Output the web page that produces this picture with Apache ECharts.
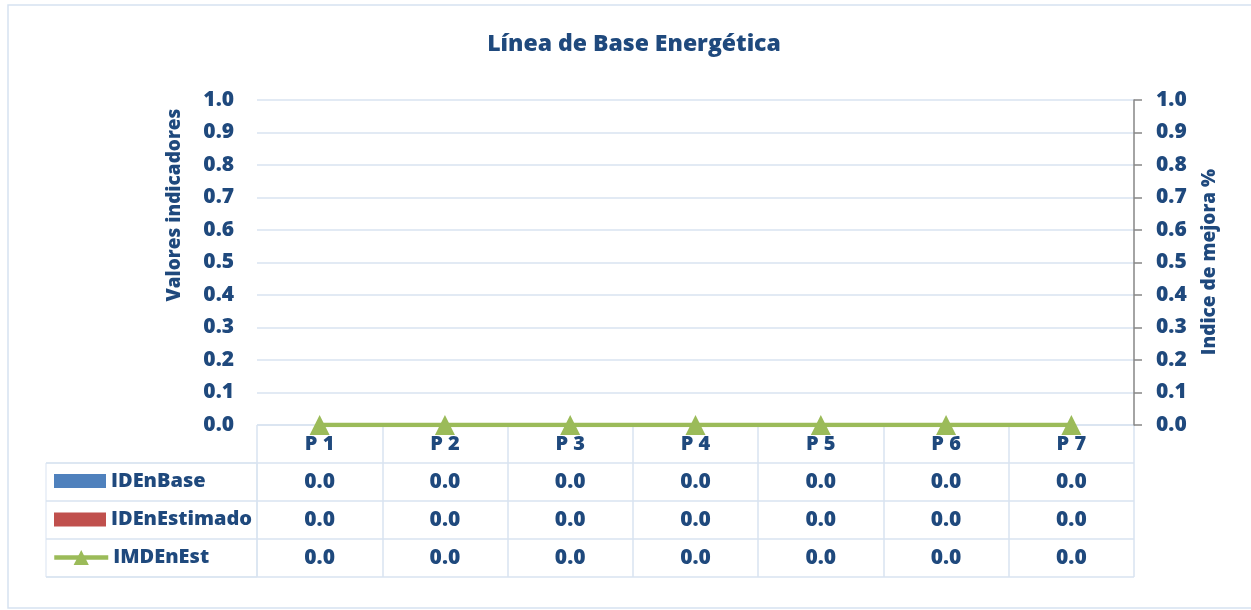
<!DOCTYPE html>
<html>
<head>
<meta charset="utf-8">
<script src="https://cdn.jsdelivr.net/npm/echarts@6/dist/echarts.min.js"></script>
<style>
html,body{margin:0;padding:0;background:#fff;}
#c{width:1251px;height:610px;}
</style>
</head>
<body>
<div id="c"></div>
<script>
// ---- data ----
var categories = ['P 1', 'P 2', 'P 3', 'P 4', 'P 5', 'P 6', 'P 7'];
var seriesNames = ['IDEnBase', 'IDEnEstimado', 'IMDEnEst'];
var idEnBase = [0, 0, 0, 0, 0, 0, 0];
var idEnEstimado = [0, 0, 0, 0, 0, 0, 0];
var imdEnEst = [0, 0, 0, 0, 0, 0, 0];
var leftTicks = [0, 0.1, 0.2, 0.3, 0.4, 0.5, 0.6, 0.7, 0.8, 0.9, 1.0];
var rightTicks = [0, 0.1, 0.2, 0.3, 0.4, 0.5, 0.6, 0.7, 0.8, 0.9, 1.0];

// ---- styles ----
var TXT = '#1f497d';
var GRIDC = '#d9e3f1';
var FONT = '"Open Sans", sans-serif';
var W = 800;

var tableRows = [idEnBase, idEnEstimado, imdEnEst];
var tableData = [];
tableRows.forEach(function (row, r) {
  row.forEach(function (v, c) { tableData.push([c, r + 1, v]); });
});

var chart = echarts.init(document.getElementById('c'), null, {renderer: 'canvas'});
var legendText = {color: TXT, fontWeight: W, fontSize: 20, fontFamily: FONT, lineHeight: 20};
var option = {
  backgroundColor: '#fff',
  animation: false,
  graphic: [
    {type: 'rect', shape: {x: 8, y: 5, width: 1300, height: 603}, style: {fill: 'none', stroke: '#d6e2f1', lineWidth: 1.5}, z: -1},
    {type: 'text', x: 634, y: 44, style: {text: 'Línea de Base Energética', font: W + ' 23px ' + FONT, fill: TXT, align: 'center', verticalAlign: 'middle'}},
    {type: 'text', x: 175, y: 205, rotation: Math.PI / 2, style: {text: 'Valores indicadores', font: W + ' 19px ' + FONT, fill: TXT, align: 'center', verticalAlign: 'middle'}},
    {type: 'text', x: 1210, y: 262, rotation: Math.PI / 2, style: {text: 'Indice de mejora %', font: W + ' 19px ' + FONT, fill: TXT, align: 'center', verticalAlign: 'middle'}}
  ],
  legend: [
    {
      orient: 'vertical', left: 54, top: 471, padding: 0,
      itemWidth: 52, itemHeight: 14, itemGap: 18.5,
      selectedMode: false, textStyle: legendText,
      data: [{name: seriesNames[0], icon: 'rect'}, {name: seriesNames[1], icon: 'rect'}]
    },
    {
      orient: 'vertical', left: 52, top: 547.5, padding: 0,
      itemWidth: 54, itemHeight: 19,
      selectedMode: false, textStyle: legendText,
      lineStyle: {width: 4.5, color: '#9bbb59'},
      data: [{name: seriesNames[2]}]
    }
  ],
  grid: [
    {left: 257, width: 877, top: 100, height: 325},
    {left: 257, width: 877, top: 425, height: 152},
    {left: 46, width: 211, top: 463, height: 114, show: true, borderColor: GRIDC, borderWidth: 1, backgroundColor: 'transparent'}
  ],
  xAxis: [
    {type: 'category', gridIndex: 0, data: categories,
      axisLine: {show: false}, axisTick: {show: false},
      axisLabel: {color: TXT, fontWeight: W, fontSize: 20, fontFamily: FONT, margin: 9, lineHeight: 20},
      splitLine: {show: false}},
    {type: 'category', gridIndex: 1, data: categories,
      axisLine: {show: false}, axisTick: {show: false}, axisLabel: {show: false},
      splitLine: {show: true, lineStyle: {color: GRIDC, width: 1.5}}},
    {type: 'value', gridIndex: 2, min: 0, max: 1, show: false}
  ],
  yAxis: [
    {type: 'value', gridIndex: 0, position: 'left', min: 0, max: 1, interval: 0.1,
      axisLine: {show: false}, axisTick: {show: false},
      axisLabel: {color: TXT, fontWeight: W, fontSize: 21, fontFamily: FONT, margin: 23,
        formatter: function (v) { return v.toFixed(1); }},
      splitLine: {show: true, lineStyle: {color: GRIDC, width: 1.5}}},
    {type: 'value', gridIndex: 0, position: 'right', min: 0, max: 1, interval: 0.1,
      axisLine: {show: true, lineStyle: {color: '#868686', width: 1.5}},
      axisTick: {show: true, inside: false, length: 8, lineStyle: {color: '#868686', width: 1.5}},
      axisLabel: {color: TXT, fontWeight: W, fontSize: 21, fontFamily: FONT, margin: 22,
        formatter: function (v) { return v.toFixed(1); }},
      splitLine: {show: false}},
    {type: 'category', gridIndex: 1, data: [''].concat(seriesNames), inverse: true,
      axisLine: {show: false}, axisTick: {show: false}, axisLabel: {show: false},
      splitLine: {show: true, lineStyle: {color: GRIDC, width: 1.5}}},
    {type: 'category', gridIndex: 2, data: seriesNames, inverse: true,
      axisLine: {show: false}, axisTick: {show: false}, axisLabel: {show: false},
      splitLine: {show: true, lineStyle: {color: GRIDC, width: 1.5}}}
  ],
  series: [
    {name: seriesNames[0], type: 'bar', xAxisIndex: 0, yAxisIndex: 0, data: idEnBase, itemStyle: {color: '#4f81bd'}},
    {name: seriesNames[1], type: 'bar', xAxisIndex: 0, yAxisIndex: 0, data: idEnEstimado, itemStyle: {color: '#c0504d'}},
    {name: seriesNames[2], type: 'line', xAxisIndex: 0, yAxisIndex: 1, data: imdEnEst,
      symbol: 'triangle', symbolSize: 20, showSymbol: true,
      itemStyle: {color: '#9bbb59'}, lineStyle: {color: '#9bbb59', width: 4.5}, z: 5},
    {name: 'table', type: 'custom', xAxisIndex: 1, yAxisIndex: 2, data: tableData,
      renderItem: function (params, api) {
        var p = api.coord([api.value(0), api.value(1)]);
        return {type: 'text', x: p[0], y: p[1],
          style: {text: Number(api.value(2)).toFixed(1), font: W + ' 21px ' + FONT, fill: TXT, align: 'center', verticalAlign: 'middle'}};
      }}
  ]
};
chart.setOption(option);
</script>
</body>
</html>
